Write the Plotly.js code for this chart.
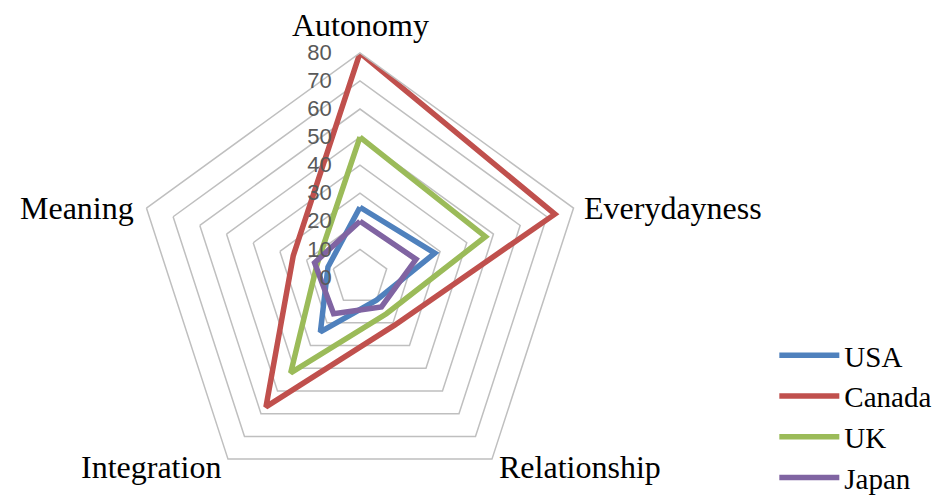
<!DOCTYPE html>
<html>
<head>
<meta charset="utf-8">
<script src="https://cdn.plot.ly/plotly-3.0.1.min.js"></script>
<style>html,body{margin:0;padding:0;background:#fff;}#chart{width:942px;height:503px;}</style>
</head>
<body>
<div id="chart"></div>
<script>
const categories = ["Autonomy", "Everydayness", "Relationship", "Integration", "Meaning"];
const seriesNames = ["USA", "Canada", "UK", "Japan"];
const usa = [25, 28, 10, 24, 12];
const canada = [80, 73, 21, 57, 25];
const uk = [50, 47, 16, 42, 16];
const japan = [20, 21, 13, 16, 17];
const radialTicks = [0, 10, 20, 30, 40, 50, 60, 70, 80];

const colors = ["#4F81BD", "#C0504D", "#9BBB59", "#8064A2"];
const seriesValues = [usa, canada, uk, japan];

const traces = seriesValues.map((vals, i) => ({
  type: "scatterpolar",
  mode: "lines",
  name: seriesNames[i],
  r: vals.concat([vals[0]]),
  theta: categories.concat([categories[0]]),
  line: {color: colors[i], width: 5.5, shape: "linear"},
  hoverinfo: "name+r+theta"
}));

const pad = "\u00a0\u00a0\u00a0\u00a0";
const W = 942, H = 503;
// category label placement (pixel positions around the pentagon)
const labelPos = [
  {x: 360, y: 25, xa: "center"},
  {x: 582, y: 208, xa: "left"},
  {x: 497, y: 468, xa: "left"},
  {x: 223, y: 468, xa: "right"},
  {x: 136, y: 208, xa: "right"}
];
const catFont = {family: "Liberation Serif, Times New Roman, serif", size: 32, color: "#000"};
const annotations = categories.map((c, i) => ({
  text: c,
  xref: "paper", yref: "paper",
  x: labelPos[i].x / W, y: 1 - labelPos[i].y / H,
  xanchor: labelPos[i].xa, yanchor: "middle",
  showarrow: false,
  font: catFont
}));

const layout = {
  width: W,
  height: H,
  margin: {l: 0, r: 0, t: 0, b: 0},
  paper_bgcolor: "#ffffff",
  plot_bgcolor: "#ffffff",
  showlegend: true,
  annotations: annotations,
  legend: {
    x: 0.822, y: 0.343, xanchor: "left", yanchor: "top",
    font: {family: "Liberation Serif, Times New Roman, serif", size: 29, color: "#000"},
    itemwidth: 60,
    bgcolor: "rgba(0,0,0,0)"
  },
  polar: {
    domain: {x: [0.1433, 0.6210], y: [0.0, 0.8946]},
    gridshape: "linear",
    bgcolor: "#ffffff",
    angularaxis: {
      direction: "clockwise",
      rotation: 90,
      type: "category",
      categoryarray: categories,
      showgrid: false,
      showline: true,
      linecolor: "#BFBFBF",
      linewidth: 1.5,
      ticks: "",
      showticklabels: false
    },
    radialaxis: {
      range: [0, 80],
      tickvals: radialTicks,
      ticktext: radialTicks.map(v => String(v) + pad),
      angle: 90,
      tickangle: 90,
      side: "counterclockwise",
      showline: false,
      ticks: "",
      showgrid: true,
      gridcolor: "#BFBFBF",
      gridwidth: 1.5,
      tickfont: {family: "Liberation Sans, Arial, sans-serif", size: 22, color: "#595959"}
    }
  }
};

Plotly.newPlot("chart", traces, layout, {displayModeBar: false, staticPlot: true});
</script>
</body>
</html>
